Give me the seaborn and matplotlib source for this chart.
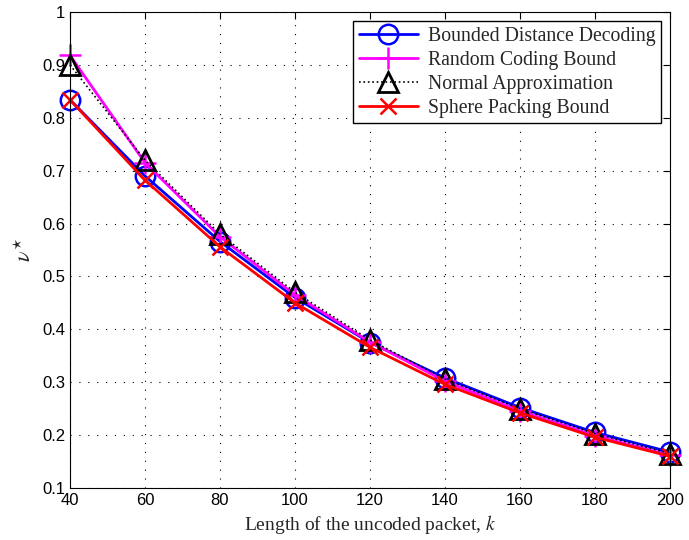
import matplotlib
matplotlib.use("Agg")
import matplotlib.pyplot as plt
import seaborn as sns
import pandas as pd

k = [40, 60, 80, 100, 120, 140, 160, 180, 200]
bdd = [0.834, 0.690, 0.566, 0.460, 0.375, 0.308, 0.252, 0.205, 0.168]
rcb = [0.918, 0.715, 0.575, 0.465, 0.376, 0.302, 0.246, 0.199, 0.162]
na = [0.900, 0.720, 0.580, 0.470, 0.380, 0.306, 0.250, 0.203, 0.165]
spb = [0.834, 0.682, 0.556, 0.450, 0.366, 0.296, 0.242, 0.196, 0.160]

names = ["Bounded Distance Decoding", "Random Coding Bound",
         "Normal Approximation", "Sphere Packing Bound"]
series = [bdd, rcb, na, spb]

sns.set_style("white")
plt.rcParams['font.family'] = ['Liberation Sans', 'DejaVu Sans']
plt.rcParams['mathtext.fontset'] = 'stix'

fig = plt.figure(figsize=(6.89, 5.40), dpi=100)
ax = fig.add_axes([0.1016, 0.0963, 0.8708, 0.8815])

styles = [
    dict(color='#0000ff', marker='o', linestyle='-', markersize=14, markerfacecolor='none',
         markeredgecolor='#0000ff', markeredgewidth=1.8, linewidth=2),
    dict(color='#ff00ff', marker='+', linestyle='-', markersize=16,
         markeredgecolor='#ff00ff', markeredgewidth=1.8, linewidth=2),
    dict(color='black', marker='^', linestyle=':', markersize=15, markerfacecolor='none',
         markeredgecolor='black', markeredgewidth=2, linewidth=1.2),
    dict(color='#ff0000', marker='x', linestyle='-', markersize=12,
         markeredgecolor='#ff0000', markeredgewidth=1.8, linewidth=2),
]
for name, vals, st in zip(names, series, styles):
    df = pd.DataFrame({'k': k, 'v': vals})
    sns.lineplot(data=df, x='k', y='v', ax=ax, label=name, clip_on=False, **st)

ax.set_xlim(40, 200)
ax.set_ylim(0.1, 1.0)
ax.set_xticks(k)
ax.set_yticks([0.1, 0.2, 0.3, 0.4, 0.5, 0.6, 0.7, 0.8, 0.9, 1.0])
ax.set_yticklabels(['0.1', '0.2', '0.3', '0.4', '0.5', '0.6', '0.7', '0.8', '0.9', '1'])
ax.tick_params(direction='in', top=True, right=True, labelsize=12, length=5, colors='black')
ax.grid(True, linestyle=(0, (1, 7)), color='black', linewidth=0.8)
ax.set_axisbelow(True)
for s in ax.spines.values():
    s.set_color('black')
    s.set_linewidth(0.8)
ax.set_xlabel('Length of the uncoded packet, $k$', fontsize=14, family='Liberation Serif')
ax.set_ylabel(r'$\nu^{\star}$', fontsize=16)

leg = ax.legend(loc='upper right', prop={'family': 'Liberation Serif', 'size': 14.2},
                fancybox=False, framealpha=1, edgecolor='black', handlelength=3.0,
                borderpad=0.3, labelspacing=0.25, handletextpad=0.5, borderaxespad=0.45)
leg.get_frame().set_linewidth(1.0)

fig.savefig('out.png', dpi=100)
